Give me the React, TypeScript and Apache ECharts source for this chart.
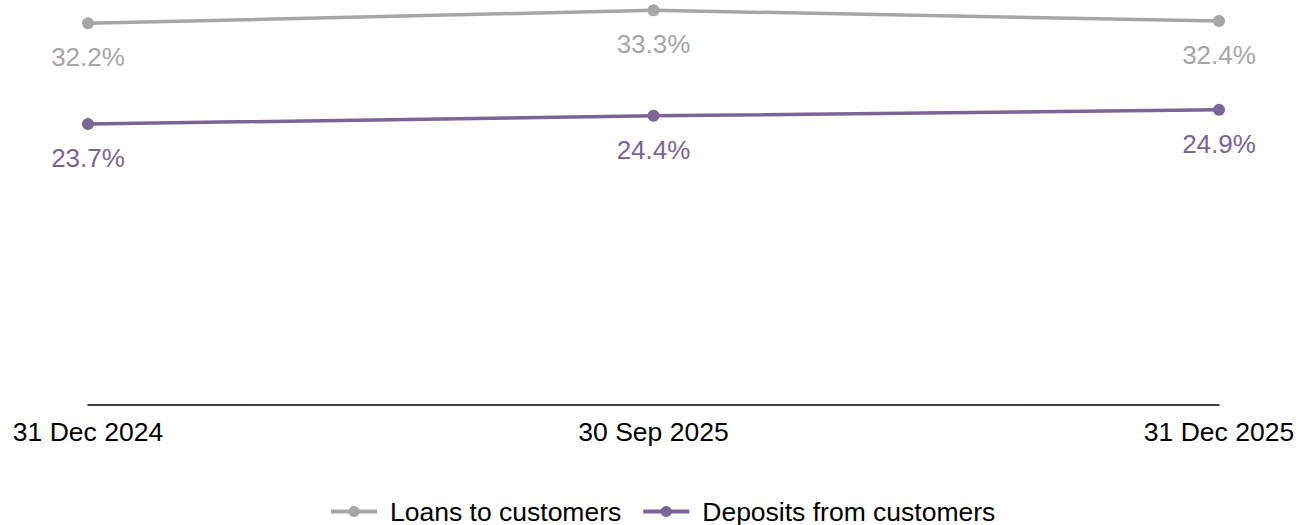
import React, { useEffect, useRef } from "react";
import * as echarts from "echarts";

const categories = ["31 Dec 2024", "30 Sep 2025", "31 Dec 2025"];
const loansToCustomers = [32.2, 33.3, 32.4];
const depositsFromCustomers = [23.7, 24.4, 24.9];
const seriesNames = ["Loans to customers", "Deposits from customers"];

const GREY = "#A6A6A6";
const PURPLE = "#7B6496";

export default function App() {
  const ref = useRef<HTMLDivElement>(null);
  useEffect(() => {
    if (!ref.current) return;
    const chart = echarts.init(ref.current, undefined, { renderer: "svg" });
    const mkSeries = (name: string, data: number[], color: string) => ({
      name,
      type: "line",
      data,
      symbol: "circle",
      symbolSize: 12,
      lineStyle: { color, width: 3.5 },
      itemStyle: { color },
      label: {
        show: true,
        position: "bottom",
        distance: 15,
        color,
        fontSize: 26,
        fontFamily: "'Liberation Sans Narrow', 'Arial Narrow', 'Liberation Sans', Arial, sans-serif",
        formatter: (p: any) => p.value.toFixed(1) + "%",
      },
    });
    chart.setOption({
      animation: false,
      grid: { left: 88, right: 80, top: 2, bottom: 120 },
      xAxis: {
        type: "category",
        data: categories,
        boundaryGap: false,
        axisLine: { lineStyle: { color: "#000", width: 1.5 } },
        axisTick: { show: false },
        axisLabel: {
          color: "#000",
          fontSize: 26.5,
          fontFamily: "'Liberation Sans', Arial, sans-serif",
          margin: 13,
        },
      },
      yAxis: {
        type: "value",
        min: 0,
        max: 34,
        show: false,
        splitLine: { show: false },
      },
      legend: {
        data: seriesNames,
        left: 324,
        top: 493,
        itemWidth: 46,
        itemHeight: 14,
        itemGap: 20,
        lineStyle: { width: 4 },
        textStyle: {
          color: "#000",
          fontSize: 26.5,
          fontFamily: "'Liberation Sans', Arial, sans-serif",
          padding: [0, 0, 0, 8],
        },
      },
      series: [
        mkSeries(seriesNames[0], loansToCustomers, GREY),
        mkSeries(seriesNames[1], depositsFromCustomers, PURPLE),
      ],
    });
    return () => chart.dispose();
  }, []);
  return (
    <div
      ref={ref}
      style={{ position: "fixed", left: 0, top: 0, width: 1299, height: 525, background: "#fff" }}
    />
  );
}
